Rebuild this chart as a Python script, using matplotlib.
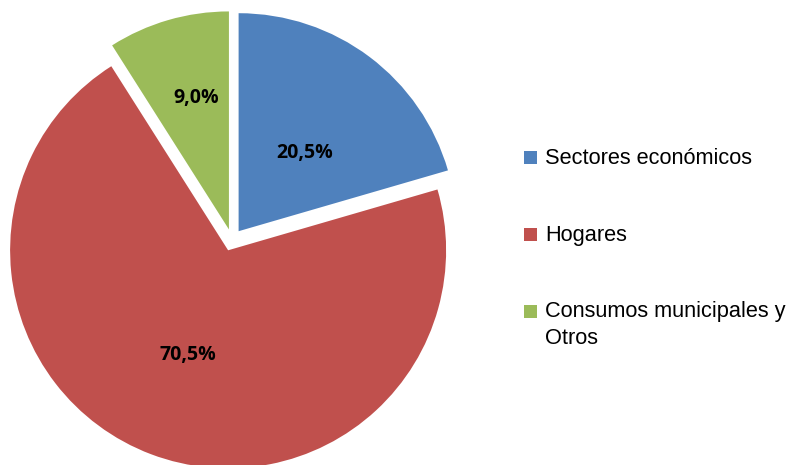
import matplotlib.pyplot as plt
from matplotlib.patches import Rectangle

labels = ["Sectores económicos", "Hogares", "Consumos municipales y\nOtros"]
values = [20.5, 70.5, 9.0]
pct_text = ["20,5%", "70,5%", "9,0%"]
colors = ["#4F81BD", "#C0504D", "#9BBB59"]

fig = plt.figure(figsize=(7.9, 4.65), dpi=100)
ax = fig.add_axes([0, 0, 1, 1])

# pie in pixel coordinates (explode is in data units here)
wedges, _ = ax.pie(values, colors=colors, startangle=90, counterclock=False,
                   center=(232, 225), radius=218, explode=[11, 11, 11],
                   wedgeprops=dict(linewidth=0))
ax.set_xlim(0, 790)
ax.set_ylim(0, 465)
ax.set_aspect("equal")
ax.axis("off")

# percentage labels
lab_pos = [(305, 312), (188, 110), (196, 367)]
for (x, y), t in zip(lab_pos, pct_text):
    ax.text(x, y, t, ha="center", va="center", fontsize=14,
            fontweight="bold", family="Open Sans", color="black")

# legend drawn by hand
leg_y = [307, 230, 154]
txts = []
for y, lab, c in zip(leg_y, labels, colors):
    ax.add_patch(Rectangle((524, y - 6.5), 13, 13, color=c, lw=0))
    txts.append(ax.text(545, y + 10, lab, ha="left", va="top", fontsize=14,
                        family=["Liberation Sans Narrow", "Liberation Sans"],
                        linespacing=1.35, color="black"))

# fit the legend font so the long label spans about 243 px
fig.canvas.draw()
w = txts[2].get_window_extent().width
for t in txts:
    t.set_fontsize(14 * 243 / w)

fig.savefig("out.png", dpi=100)
